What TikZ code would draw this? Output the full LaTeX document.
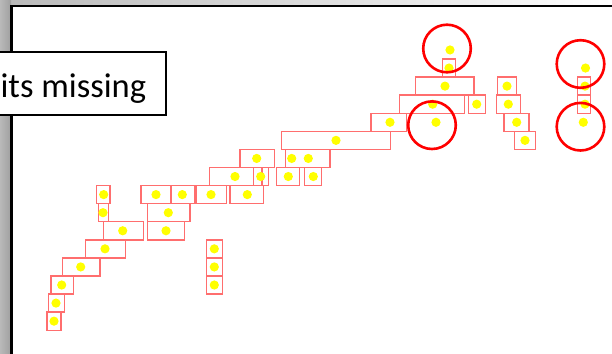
\documentclass[tikz,border=0pt]{standalone}
\usepackage{fontspec}
\setmainfont{Carlito}
\usepackage{tikz}
\usetikzlibrary{positioning}
\usepackage{xcolor}
\definecolor{boxred}{RGB}{255,110,110}
\definecolor{dotyellow}{RGB}{255,255,0}
\tikzset{
    cellbox/.style={draw=boxred, line width=1.4pt},
    hitdot/.style={fill=dotyellow},
    ringmark/.style={draw=red, line width=2.6pt},
    labelbox/.style={rectangle, draw, line width=1.8pt, fill=white, inner xsep=20pt, inner ysep=0pt,
        text height=45pt, text depth=18pt, font=\fontsize{34.5}{40}\selectfont}
}

\begin{document}
\begin{tikzpicture}[x=1pt, y=-1pt]
        \useasboundingbox (0,0) rectangle (612,353);
        \clip (0,0) rectangle (612,353);
        % backdrop and panel
        \shade[left color=gray!55, right color=white] (0,0) rectangle (612,6);
        \shade[left color=gray!55, right color=gray!75] (0,0) rectangle (11,353);
        \draw[fill=white, line width=2.7pt] (11.3,360) -- (11.3,6) -- (620,6) -- (620,360);
        % boxes: x1/x2/row
        \foreach \a/\b/\r in {442.3/455.7/0, 415.7/474/1, 497.3/516.7/1, 577.7/590.7/1,
            399.3/464.3/2, 468.3/485.7/2, 496.5/520.7/2, 577.7/590.7/2,
            371/406.7/3, 504/529/3, 281.7/390.7/4, 514.3/535.7/4,
            240/274.3/5, 285.7/330/5, 209.3/262/6, 253.3/268.3/6, 276.7/299.3/6, 304.3/321.7/6,
            96.7/110/7, 141/171/7, 171/194.3/7, 196/226.7/7, 230/263.3/7,
            98.7/108.3/8, 147.7/190/8, 103.3/143.3/9, 147.7/184.3/9,
            85.3/125.7/10, 206.7/222.3/10, 62.7/100/11, 206.7/222.3/11,
            51/73.3/12, 206.7/222.3/12, 48.3/64.3/13, 47/61/14}
            \draw[cellbox] (\a,{59+18.08*\r}) rectangle (\b,{59+18.08*(\r+1)});
        % dots: x/row
        \foreach \a/\r in {450/-1, 449/0, 585.5/0, 445/1, 507/1, 585/1,
            432.7/2, 476.7/2, 508.3/2, 585/2, 390/3, 436/3, 516.7/3, 583.3/3,
            336/4, 525/4, 256.7/5, 291.7/5, 308.3/5, 235/6, 260.7/6, 288.3/6, 313.3/6,
            103.7/7, 156/7, 182.3/7, 211/7, 247.3/7, 103/8, 168.3/8, 122.7/9, 166/9,
            105/10, 214.3/10, 80.7/11, 214.3/11, 61.7/12, 214.3/12, 56/13, 54/14}
            \fill[hitdot] (\a,{59+18.08*(\r+0.5)}) circle (4.6);
        % circled spots
        \foreach \a/\b in {447/48.5, 432/125.2, 580.5/64, 580.5/126.7}
            \draw[ringmark] (\a,\b) circle (23.8);
        \node[labelbox, anchor=east] (missing) at (167,83.5) {its missing};
    \end{tikzpicture}
\end{document}
